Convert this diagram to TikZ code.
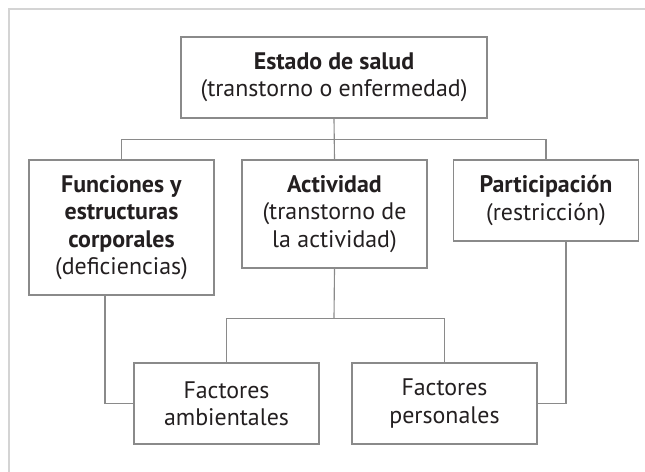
\documentclass[tikz,border=0pt]{standalone}
\usepackage{fontspec}
\setmainfont{PT Sans}
\definecolor{boxgray}{HTML}{8A8A8A}
\definecolor{framegray}{HTML}{D4D4D4}
\definecolor{inkgray}{HTML}{231F20}
\begin{document}
\begin{tikzpicture}[x=0.025cm,y=-0.025cm]
    \tikzstyle{every node}+=[inner sep=0pt]
    \tikzstyle{caja}=[draw=boxgray,line width=0.8pt,fill=white,align=center,text=inkgray,font=\fontsize{17}{19.4}\selectfont,minimum width=4.625cm]
    \tikzstyle{linea}=[draw=boxgray,line width=0.8pt]
    \useasboundingbox (0,0) rectangle (645,472);
    \draw [framegray,line width=0.8pt] (9,472) -- (9,9) -- (645,9);
    \node [caja,minimum width=7.65cm,minimum height=2.025cm] (salud) at (334,77.5) {\textbf{Estado de salud}\\(transtorno o enfermedad)};
    \node [caja,minimum height=3.375cm] (func) at (121.5,227.5) {\textbf{Funciones y}\\\textbf{estructuras}\\\textbf{corporales}\\(deficiencias)};
    \node [caja,minimum height=2.7cm] (act) at (334.5,214) {\textbf{Actividad}\\(transtorno de\\la actividad)};
    \node [caja,minimum height=2.025cm] (part) at (546,200.5) {\textbf{Participación}\\(restricción)};
    \node [caja,minimum height=2.025cm] (amb) at (226.5,403.5) {Factores\\ambientales};
    \node [caja,minimum height=2.025cm] (pers) at (444.5,403.5) {Factores\\personales};
    \coordinate (bus1) at (334,139.5);
    \coordinate (bus2) at (334,318.5);
    \draw [linea] (salud.south) -- (act.north);
    \draw [linea] (func.north) |- (bus1) -| (part.north);
    \draw [linea] (act.south) -- (bus2);
    \draw [linea] (amb.north) |- (bus2) -| (pers.north);
    \draw [linea] (func.south) ++(-16.5,0) |- (amb.west);
    \draw [linea] (part.south) ++(20,0) |- (pers.east);
\end{tikzpicture}
\end{document}
